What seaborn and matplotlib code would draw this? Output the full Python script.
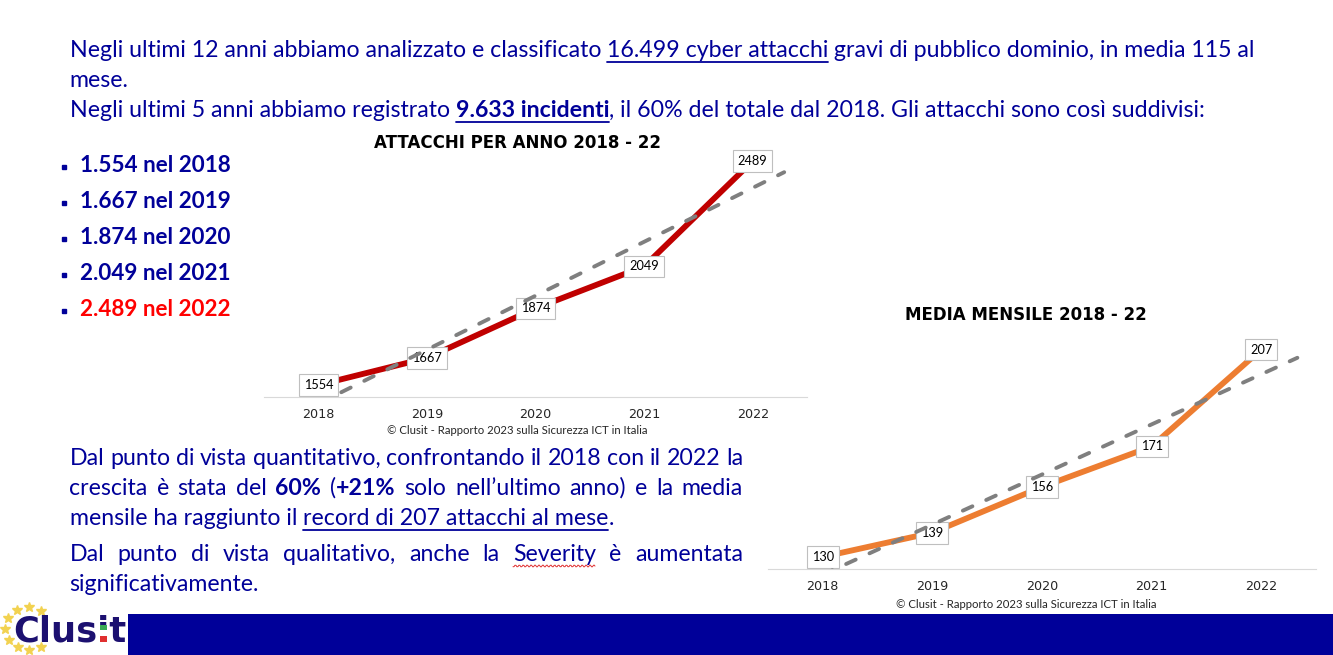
import re
import numpy as np
import pandas as pd
import matplotlib.pyplot as plt
import seaborn as sns
from matplotlib.lines import Line2D
from matplotlib.patches import Rectangle
from matplotlib.transforms import IdentityTransform

# --- Dane ---
YEARS = ["2018", "2019", "2020", "2021", "2022"]
ATTACKS_PER_YEAR = [1554, 1667, 1874, 2049, 2489]
MONTHLY_AVERAGE = [130, 139, 156, 171, 207]
TITLE_YEAR = "ATTACCHI PER ANNO 2018 - 22"
TITLE_MONTH = "MEDIA MENSILE 2018 - 22"
COPYRIGHT = "© Clusit - Rapporto 2023 sulla Sicurezza ICT in Italia"
BULLETS = ["1.554 nel 2018", "1.667 nel 2019", "1.874 nel 2020", "2.049 nel 2021", "2.489 nel 2022"]

# --- Wyglad ---
W, H = 1333, 655
NAVY = "#000099"
BODY_SIZE = 16.67
sns.set_theme(style="white")
plt.rcParams["font.family"] = ["Lato", "DejaVu Sans"]

fig = plt.figure(figsize=(W / 100, H / 100), dpi=100, facecolor="white")
renderer = fig.canvas.get_renderer()
PX = IdentityTransform()


def text_width(s, size, weight):
    # kreski dookola, zeby spacje na koncach tez sie liczyly
    a = fig.text(0, 0, "|" + s + "|", fontsize=size, fontweight=weight)
    b = fig.text(0, 0, "||", fontsize=size, fontweight=weight)
    w = a.get_window_extent(renderer).width - b.get_window_extent(renderer).width
    a.remove()
    b.remove()
    return w


def draw_line(x, y, runs, right=None, size=BODY_SIZE, color=NAVY):
    """Linia tekstu z fragmentow (tekst, styl); right = justowanie do tego piksela."""
    tokens = []
    for s, style in runs:
        parts = re.findall(r"\s+|\S+", s) if right is not None else [s]
        tokens += [(p, style) for p in parts]
    widths = [text_width(p, size, "bold" if "b" in st else "normal") for p, st in tokens]
    extra = 0
    if right is not None:
        n_gaps = sum(1 for p, _ in tokens if p.isspace())
        extra = (right - x - sum(widths)) / n_gaps
    for (p, st), w in zip(tokens, widths):
        if p.isspace():
            w += extra
        else:
            fig.text(x, H - y, p, transform=PX, fontsize=size, color=color, va="baseline",
                     fontweight="bold" if "b" in st else "normal")
        if "u" in st:
            fig.add_artist(Line2D([x, x + w], [H - y - 4.5, H - y - 4.5], transform=PX, color=color, lw=1.3))
        x += w


def draw_chart(left, right, top, bottom, ylim, values, color, title, title_xy, copyright_xy, trend_end):
    ax = fig.add_axes([left / W, 1 - bottom / H, (right - left) / W, (bottom - top) / H])
    ax.patch.set_alpha(0)
    positions = np.arange(len(values))
    df = pd.DataFrame({"pos": positions, "value": values})
    sns.lineplot(data=df, x="pos", y="value", ax=ax, color=color, linewidth=4.2, zorder=2,
                 solid_capstyle="butt")
    # linia trendu z regresji, wydluzona troche za ostatni rok
    slope, intercept = np.polyfit(positions, values, 1)
    trend_x = np.array([0, trend_end])
    sns.lineplot(x=trend_x, y=slope * trend_x + intercept, ax=ax, color="#7F7F7F", linewidth=2.8,
                 linestyle=(0, (2.7, 3.9)), dash_capstyle="round", zorder=4)
    for p, v in zip(positions, values):
        ax.text(p, v, str(v), ha="center", va="center", fontsize=9.2, color="black", zorder=3,
                bbox=dict(boxstyle="square,pad=0.38", fc="white", ec="#BFBFBF", lw=0.8))
    ax.set_xlim(-0.5, 4.5)
    ax.set_ylim(*ylim)
    ax.set_xticks(positions)
    ax.set_xticklabels(YEARS, fontfamily="DejaVu Sans", fontsize=9.2, color="#262626")
    ax.set_yticks([])
    ax.set_xlabel("")
    ax.set_ylabel("")
    ax.tick_params(axis="x", length=0, pad=8)
    sns.despine(ax=ax, left=True)
    ax.spines["bottom"].set_color("#D9D9D9")
    ax.spines["bottom"].set_linewidth(0.8)
    fig.text(title_xy[0], H - title_xy[1], title, transform=PX, ha="center", va="center",
             fontfamily="DejaVu Sans", fontweight="bold", fontsize=12, color="black")
    fig.text(copyright_xy[0], H - copyright_xy[1], COPYRIGHT, transform=PX, ha="center", va="center",
             fontsize=8.2, color="#262626")


# --- Tekst naglowka ---
draw_line(69.5, 57, [("Negli ultimi 12 anni abbiamo analizzato e classificato ", ""),
                     ("16.499 cyber attacchi", "u"),
                     (" gravi di pubblico dominio, in media 115 al", "")])
draw_line(69.5, 87, [("mese.", "")])
draw_line(69.5, 117, [("Negli ultimi 5 anni abbiamo registrato ", ""),
                      ("9.633 incidenti", "bu"),
                      (", il 60% del totale dal 2018. Gli attacchi sono così suddivisi:", "")])

# --- Lista ---
for i, label in enumerate(BULLETS):
    y = 172 + 36 * i
    fig.add_artist(Line2D([64], [H - y + 5], transform=PX, marker="s", ms=2.4, color=NAVY, lw=0))
    draw_line(80.5, y, [(label, "b")], size=16.2, color="#FF0000" if label.endswith("2022") else NAVY)

# --- Wykresy ---
draw_chart(264, 807, 150, 397, (1504, 2535), ATTACKS_PER_YEAR, "#C00000", TITLE_YEAR, (517, 143), (517.5, 431), 4.29)
draw_chart(768, 1316, 328, 569, (125.5, 215), MONTHLY_AVERAGE, "#ED7D31", TITLE_MONTH, (1026, 315), (1026.5, 605), 4.33)

# --- Akapit dolny ---
draw_line(69.5, 465, [("Dal punto di vista quantitativo, confrontando il 2018 con il 2022 la", "")], right=743)
draw_line(69.5, 495, [("crescita è stata del ", ""), ("60%", "b"), (" (", ""), ("+21%", "b"),
                      (" solo nell’ultimo anno) e la media", "")], right=743)
draw_line(69.5, 525, [("mensile ha raggiunto il ", ""), ("record di 207 attacchi al mese", "u"), (".", "")])
draw_line(69.5, 561, [("Dal punto di vista qualitativo, anche la Severity è aumentata", "")], right=743)
draw_line(69.5, 591, [("significativamente.", "")])

# falka spellcheckera pod "Severity"
squiggle_x = np.arange(513, 596, 1.0)
fig.add_artist(Line2D(squiggle_x, H - 566 + np.sin(squiggle_x * 1.6) * 1.0, transform=PX, color="#E03030", lw=0.7))

# --- Pasek i logo ---
fig.add_artist(Rectangle((128, 0), W - 128, 41, transform=PX, color=NAVY, lw=0))
STAR_X = [17, 29, 41, 8, 5, 9, 18, 29, 41]
STAR_Y = [610, 607, 611, 618, 629, 640, 647, 650, 647]
for sx, sy in zip(STAR_X, STAR_Y):
    fig.add_artist(Line2D([sx], [H - sy], transform=PX, marker="*", ms=7, color="#F2D250", lw=0))
LOGO = "#1C1070"
fig.text(13, H - 642, "Clusit", transform=PX, fontsize=25.4, fontfamily="DejaVu Sans", fontweight="bold",
         color=LOGO, va="baseline")
for top, height, col in zip([625, 630, 636], [5, 6, 6], ["#3AAA55", "#FFFFFF", "#E03030"]):
    fig.add_artist(Rectangle((100, H - top - height), 6.5, height, transform=PX, color=col, lw=0, zorder=5))

fig.savefig("out.png", dpi=100, facecolor="white")
